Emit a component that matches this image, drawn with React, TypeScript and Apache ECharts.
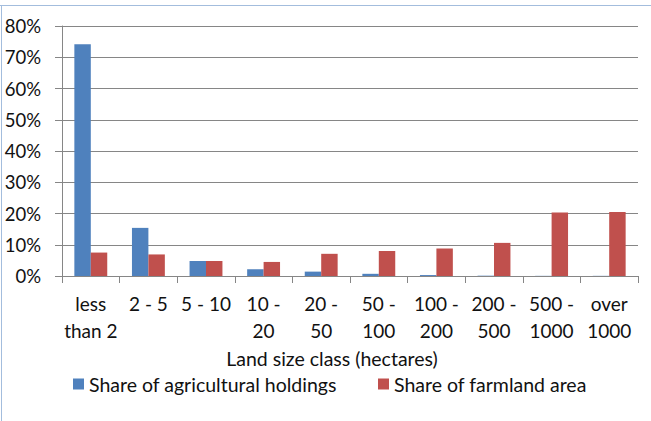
import React, { useEffect, useRef } from "react";
import * as echarts from "echarts";

const categories = [
  "less\nthan 2",
  "2 - 5",
  "5 - 10",
  "10 -\n20",
  "20 -\n50",
  "50 -\n100",
  "100 -\n200",
  "200 -\n500",
  "500 -\n1000",
  "over\n1000",
];
const holdingsShare = [74.2, 15.4, 4.8, 2.2, 1.4, 0.7, 0.3, 0.1, 0.05, 0.05];
const farmlandShare = [7.5, 6.9, 4.8, 4.5, 7.1, 8.0, 8.8, 10.6, 20.3, 20.5];
const seriesNames = ["Share of agricultural holdings", "Share of farmland area"];
const xAxisTitle = "Land size class (hectares)";

const FONT = "Lato";
const TEXT_COLOR = "#111111";
const GRID_COLOR = "#868686";

export default function App() {
  const ref = useRef<HTMLDivElement>(null);
  useEffect(() => {
    document.body.style.margin = "0";
    if (!ref.current) return;
    const chart = echarts.init(ref.current, undefined, { renderer: "svg" });
    chart.setOption({
      animation: false,
      backgroundColor: "#ffffff",
      textStyle: { fontFamily: FONT },
      grid: { left: 62, right: 13, top: 26, bottom: 145, containLabel: false },
      xAxis: {
        type: "category",
        data: categories,
        axisLine: { lineStyle: { color: GRID_COLOR, width: 1 } },
        axisTick: { show: true, alignWithLabel: false, length: 7, lineStyle: { color: GRID_COLOR } },
        axisLabel: {
          interval: 0,
          margin: 14,
          fontFamily: FONT,
          fontSize: 19,
          lineHeight: 27,
          color: TEXT_COLOR,
          align: "center",
        },
      },
      yAxis: {
        type: "value",
        min: 0,
        max: 80,
        interval: 10,
        axisLine: { show: true, lineStyle: { color: GRID_COLOR, width: 1 } },
        axisTick: { show: true, inside: false, length: 7, lineStyle: { color: GRID_COLOR } },
        splitLine: { show: true, lineStyle: { color: GRID_COLOR, width: 1 } },
        axisLabel: {
          margin: 21,
          formatter: "{value}%",
          fontFamily: FONT,
          fontSize: 18.5,
          color: TEXT_COLOR,
        },
      },
      legend: [
        {
          data: [seriesNames[0]],
          left: 73,
          top: 374,
          padding: 0,
          itemWidth: 11,
          itemHeight: 11,
          icon: "rect",
          textStyle: { fontFamily: FONT, fontSize: 19.5, color: TEXT_COLOR },
        },
        {
          data: [seriesNames[1]],
          left: 378,
          top: 374,
          padding: 0,
          itemWidth: 11,
          itemHeight: 11,
          icon: "rect",
          textStyle: { fontFamily: FONT, fontSize: 19.5, color: TEXT_COLOR },
        },
      ],
      graphic: [
        {
          type: "line",
          shape: { x1: 0, y1: 5.5, x2: 651, y2: 5.5 },
          style: { stroke: "#a3bddd", lineWidth: 1 },
          silent: true,
        },
        {
          type: "line",
          shape: { x1: 1.5, y1: 5.5, x2: 1.5, y2: 421 },
          style: { stroke: "#a3bddd", lineWidth: 1 },
          silent: true,
        },
        {
          type: "text",
          x: 332,
          y: 358,
          style: {
            text: xAxisTitle,
            fontFamily: FONT,
            fontSize: 19.5,
            fill: TEXT_COLOR,
            textAlign: "center",
            textVerticalAlign: "middle",
          },
          silent: true,
        },
      ],
      series: [
        {
          name: seriesNames[0],
          type: "bar",
          data: holdingsShare,
          barGap: "0%",
          barCategoryGap: "42.9%",
          itemStyle: { color: "#4f81bd" },
        },
        {
          name: seriesNames[1],
          type: "bar",
          data: farmlandShare,
          barGap: "0%",
          barCategoryGap: "42.9%",
          itemStyle: { color: "#c0504d" },
        },
      ],
    });
    return () => chart.dispose();
  }, []);
  return <div ref={ref} style={{ width: 651, height: 421 }} />;
}
